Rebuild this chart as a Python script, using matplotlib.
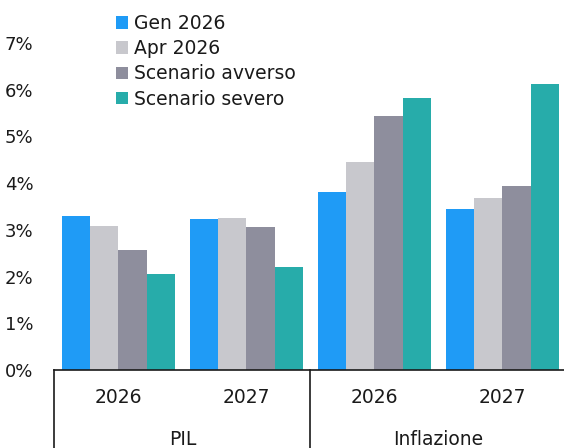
"""Scenari PIL e inflazione: barre raggruppate per anno e scenario."""

import matplotlib.pyplot as plt
from matplotlib.patches import Patch
from matplotlib.ticker import FuncFormatter

years = ["2026", "2027", "2026", "2027"]
groups = ["PIL", "Inflazione"]
series = ["Gen 2026", "Apr 2026", "Scenario avverso", "Scenario severo"]

gen_2026 = [3.30, 3.23, 3.82, 3.45]
apr_2026 = [3.08, 3.25, 4.45, 3.68]
avverso = [2.57, 3.06, 5.44, 3.93]
severo = [2.05, 2.20, 5.83, 6.12]

colors = ["#1F9BF6", "#C8C8CD", "#8E8E9D", "#27ACAA"]
TEXT = "#1a1a1a"
FS = 13.5


def main() -> None:
    plt.rcParams["font.family"] = ["DejaVu Sans"]
    fig = plt.figure(figsize=(5.64, 4.48), dpi=100)
    ax = fig.add_axes([54.3 / 564, 78 / 448, 512.2 / 564, 327 / 448])

    values = [gen_2026, apr_2026, avverso, severo]
    width = 0.221
    x = range(len(years))
    for i, (vals, color) in enumerate(zip(values, colors)):
        offset = (i - 1.5) * width
        ax.bar([p + offset for p in x], vals, width=width, color=color,
               linewidth=0, label=series[i])

    ax.set_xlim(-0.5, 3.5)
    ax.set_ylim(0, 7)
    ax.set_yticks(range(0, 8))
    ax.yaxis.set_major_formatter(FuncFormatter(lambda v, _: f"{int(v)}%"))
    ax.tick_params(axis="y", length=0, pad=15, labelsize=FS - 0.5,
                   labelcolor=TEXT)
    ax.set_xticks([])
    for side in ("left", "right", "top"):
        ax.spines[side].set_visible(False)
    ax.spines["bottom"].set_color(TEXT)
    ax.spines["bottom"].set_linewidth(1.2)

    # category box below the axis: year row then indicator row
    trans = ax.get_xaxis_transform()
    for xv in (-0.5, 1.5, 3.5):
        ax.plot([xv, xv], [0, -0.35], transform=trans, color=TEXT,
                linewidth=1.2, clip_on=False)
    for xi, label in zip(x, years):
        ax.text(xi, -27 / 327, label, transform=trans, ha="center",
                va="center", fontsize=FS, color=TEXT)
    for xi, label in zip((0.5, 2.5), groups):
        ax.text(xi, -69 / 327, label, transform=trans, ha="center",
                va="center", fontsize=FS, color=TEXT)

    handles = [Patch(facecolor=c, edgecolor="none") for c in colors]
    ax.legend(handles, series, loc="upper left",
              bbox_to_anchor=(116 / 564, 1 - 14 / 448),
              bbox_transform=fig.transFigure, frameon=False, fontsize=FS,
              handlelength=0.64, handleheight=0.64, handletextpad=0.3,
              labelspacing=0.33, borderpad=0, borderaxespad=0,
              labelcolor=TEXT)

    fig.savefig("out.png", dpi=100)
    plt.close(fig)


if __name__ == "__main__":
    main()
